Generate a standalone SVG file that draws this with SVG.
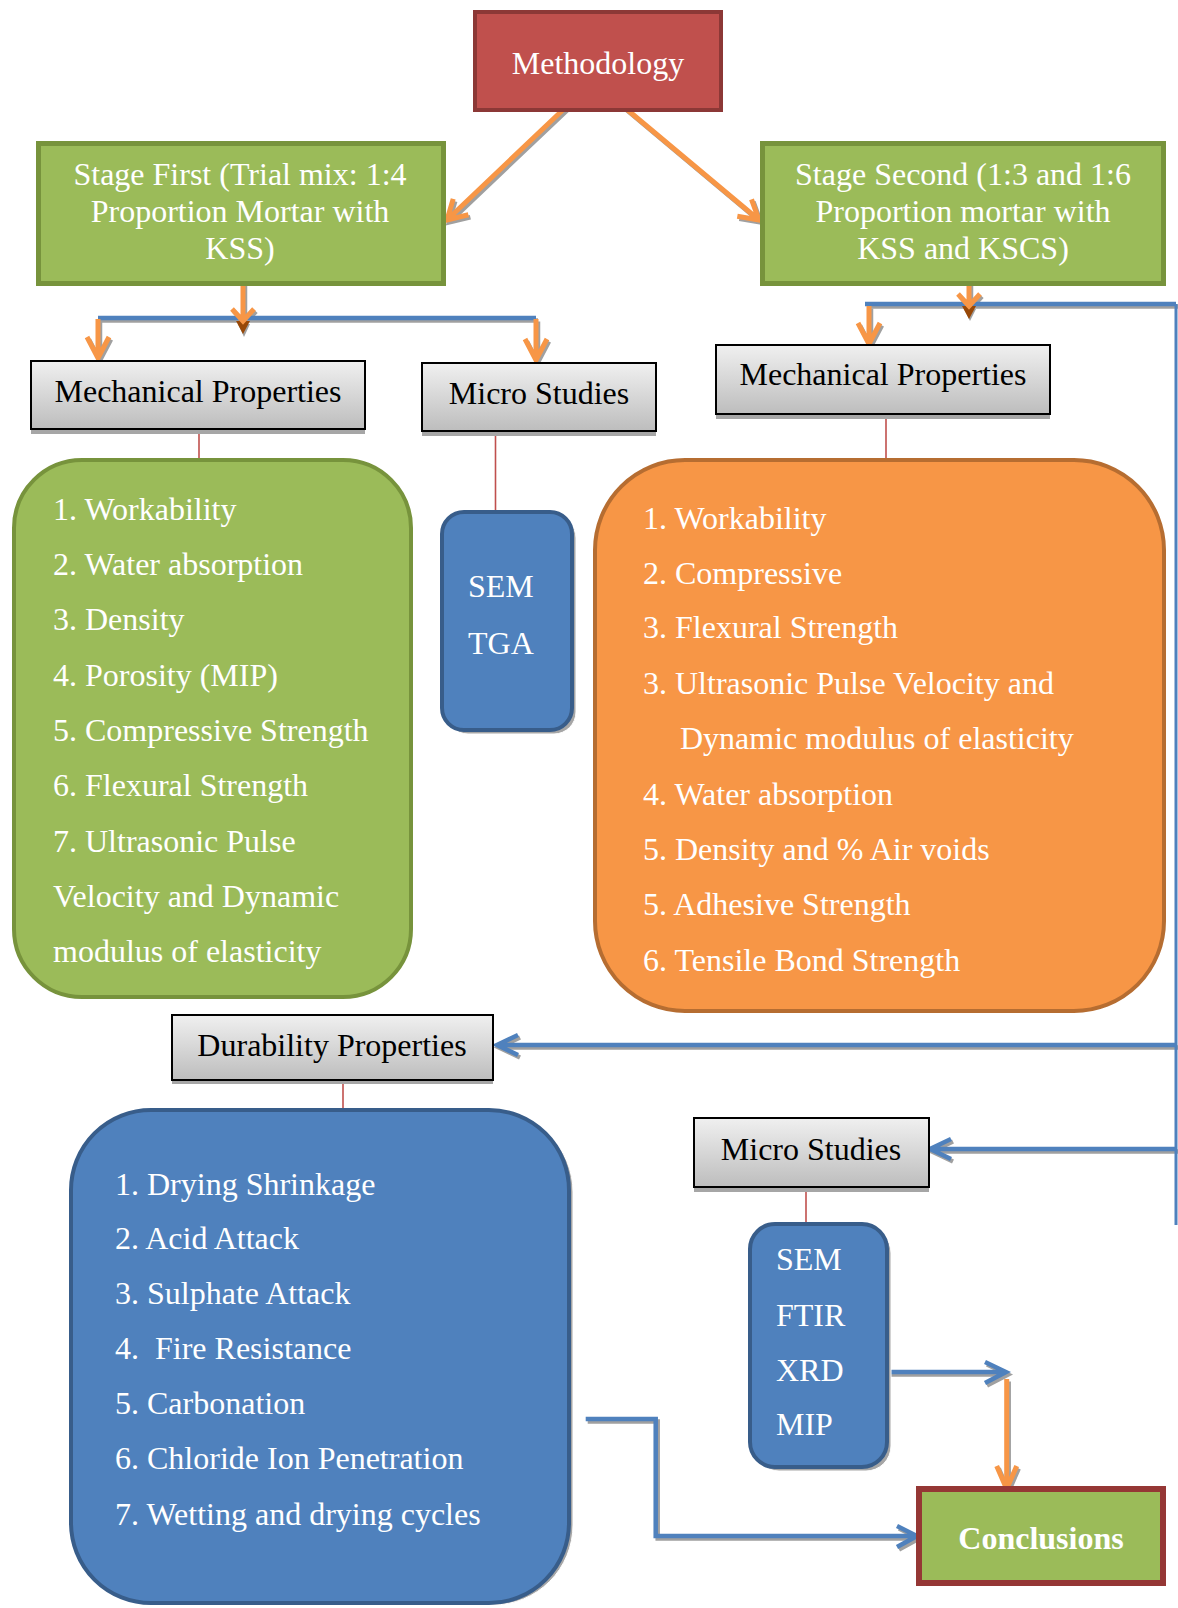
<svg xmlns="http://www.w3.org/2000/svg" width="1178" height="1608" viewBox="0 0 1178 1608">
  <defs>
    <linearGradient id="grayGrad" x1="0" y1="0" x2="0" y2="1">
      <stop offset="0" stop-color="#F0F0F0"/>
      <stop offset="1" stop-color="#BDBDBD"/>
    </linearGradient>
    <style>
      text { font-family: "Liberation Serif", "Times New Roman", serif; font-size: 32px; }
      .wt { fill: #FFFFFF; }
      .bk { fill: #000000; }
      .mid { text-anchor: middle; }
      .pre { white-space: pre; }
      .graybox { fill: url(#grayGrad); stroke: #000000; stroke-width: 2; }
      .grayshadow { fill: #A6A6A6; }
      .rshadow { fill: #A6A6A6; stroke: #FFFFFF; stroke-width: 1; }
      .redline { stroke: #C0504D; stroke-width: 1.6; fill: none; }
      .orange { stroke: #F79646; stroke-width: 5; fill: none; stroke-linecap: butt; stroke-linejoin: miter; }
      .blue { stroke: #4F81BD; stroke-width: 4.5; fill: none; stroke-linejoin: miter; }
      .shadowline { stroke: #A0A0A0; stroke-width: 4.5; fill: none; stroke-linejoin: miter; }
    </style>
  </defs>

  <!-- Connectors -->
  <g id="connectors">
    <g transform="translate(2,2.5)">
      <path class="shadowline" d="M567,106 L447,220 M468.4,214.8 L447,220 L453.2,198.9"/>
      <path class="shadowline" d="M624,107 L759,220 M751.5,199.3 L759,220 L737.3,216.2"/>
      <path class="shadowline" d="M243,272 V320 M232,309 L243,321 L254,309"/>
      <path class="shadowline" d="M98,319 V357 M87,337 L98,358 L109,337"/>
      <path class="shadowline" d="M536,319 V359 M525,339 L536,360 L547,339"/>
      <path class="shadowline" d="M969,272 V305 M958,294 L969,306 L980,294"/>
      <path class="shadowline" d="M869,306 V343 M858,323 L869,344 L880,323"/>
      <path class="shadowline" d="M1006.7,1379 V1488 M996.7,1466 L1006.7,1489 L1016.7,1466"/>
      <path class="shadowline" d="M98,318 H536"/>
      <path class="shadowline" d="M865,304 H1176"/>
      <path class="shadowline" d="M1176,1045 H498 M518,1035 L497,1045 L518,1055"/>
      <path class="shadowline" d="M1176,1149 H931 M951,1139 L930,1149 L951,1159"/>
      <path class="shadowline" d="M887,1372 H1005 M985,1362 L1006,1372 L985,1383"/>
      <path class="shadowline" d="M585.7,1419 H655.7 V1536 H916 M897,1526 L917,1536 L897,1547"/>
    </g>
    <path class="blue" d="M98,318 H536"/>
    <path class="blue" d="M865,304 H1176"/>
    <path d="M1176,304 V1225" stroke="#4F81BD" stroke-width="3" fill="none"/>
    <path class="blue" d="M1176,1045 H498 M518,1035 L497,1045 L518,1055"/>
    <path class="blue" d="M1176,1149 H931 M951,1139 L930,1149 L951,1159"/>
    <path class="blue" d="M887,1372 H1005 M985,1362 L1006,1372 L985,1383"/>
    <path class="blue" d="M585.7,1419 H655.7 V1536 H916 M897,1526 L917,1536 L897,1547"/>
    <polygon points="238,324 250,324 244,337" fill="#A0A0A0"/>
    <polygon points="236,321 250,321 243,334" fill="#984807"/>
    <polygon points="964,309 976,309 970,321" fill="#A0A0A0"/>
    <polygon points="962,306 976,306 969,319" fill="#984807"/>
    <path class="orange" d="M567,106 L447,220 M468.4,214.8 L447,220 L453.2,198.9"/>
    <path class="orange" d="M624,107 L759,220 M751.5,199.3 L759,220 L737.3,216.2"/>
    <path class="orange" d="M243,272 V320 M232,309 L243,321 L254,309"/>
    <path class="orange" d="M98,319 V357 M87,337 L98,358 L109,337"/>
    <path class="orange" d="M536,319 V359 M525,339 L536,360 L547,339"/>
    <path class="orange" d="M969,272 V305 M958,294 L969,306 L980,294"/>
    <path class="orange" d="M869,306 V343 M858,323 L869,344 L880,323"/>
    <path class="orange" d="M1006.7,1379 V1488 M996.7,1466 L1006.7,1489 L1016.7,1466"/>
    <path class="redline" d="M199,433 V462"/>
    <path class="redline" d="M495.5,433 V510"/>
    <path class="redline" d="M886,417 V460"/>
    <path class="redline" d="M343,1082 V1108"/>
    <path class="redline" d="M806,1190 V1222"/>
  </g>

  <g id="methodology">
    <rect x="475" y="12" width="246" height="98" fill="#C0504D" stroke="#8C3836" stroke-width="4"/>
    <text class="wt mid" x="598" y="73.5">Methodology</text>
  </g>

  <g id="stage-first">
    <rect x="38.5" y="143.5" width="405" height="140" fill="#9BBB59" stroke="#77933C" stroke-width="5"/>
    <text class="wt mid" x="240" y="184.5">Stage First (Trial mix: 1:4</text>
    <text class="wt mid" x="240" y="221.5">Proportion Mortar with</text>
    <text class="wt mid" x="240" y="258.5">KSS)</text>
  </g>

  <g id="stage-second">
    <rect x="762.5" y="143.5" width="401" height="140" fill="#9BBB59" stroke="#77933C" stroke-width="5"/>
    <text class="wt mid" x="963" y="184.5">Stage Second (1:3 and 1:6</text>
    <text class="wt mid" x="963" y="221.5">Proportion mortar with</text>
    <text class="wt mid" x="963" y="258.5">KSS and KSCS)</text>
  </g>

  <g id="mech-left">
    <rect class="grayshadow" x="31" y="430" width="334" height="4"/>
    <rect class="graybox" x="31" y="361" width="334" height="68"/>
    <text class="bk mid" x="198" y="401.5">Mechanical Properties</text>
  </g>

  <g id="micro-top">
    <rect class="grayshadow" x="422" y="432" width="234" height="4"/>
    <rect class="graybox" x="422" y="363" width="234" height="68"/>
    <text class="bk mid" x="539" y="403.5">Micro Studies</text>
  </g>

  <g id="mech-right">
    <rect class="grayshadow" x="716" y="415" width="334" height="4"/>
    <rect class="graybox" x="716" y="345" width="334" height="69"/>
    <text class="bk mid" x="883" y="384.5">Mechanical Properties</text>
  </g>

  <g id="list-stage-first">
    <rect x="14" y="460" width="397" height="537" rx="68" ry="68" fill="#9BBB59" stroke="#77933C" stroke-width="4"/>
    <text class="wt" x="53" y="519.5">1. Workability</text>
    <text class="wt" x="53" y="574.5">2. Water absorption</text>
    <text class="wt" x="53" y="629.5">3. Density</text>
    <text class="wt" x="53" y="685.5">4. Porosity (MIP)</text>
    <text class="wt" x="53" y="740.5">5. Compressive Strength</text>
    <text class="wt" x="53" y="795.5">6. Flexural Strength</text>
    <text class="wt" x="53" y="851.5">7. Ultrasonic Pulse</text>
    <text class="wt" x="53" y="906.5">Velocity and Dynamic</text>
    <text class="wt" x="53" y="961.5">modulus of elasticity</text>
  </g>

  <g id="micro-top-list">
    <rect class="rshadow" x="446" y="516" width="130" height="218" rx="22" ry="22"/>
    <rect x="442" y="512" width="130" height="218" rx="22" ry="22" fill="#4F81BD" stroke="#385D8A" stroke-width="4"/>
    <text class="wt" x="468" y="596.5">SEM</text>
    <text class="wt" x="468" y="653.5">TGA</text>
  </g>

  <g id="list-stage-second">
    <rect x="595" y="460" width="569" height="551" rx="90" ry="90" fill="#F79646" stroke="#B66D31" stroke-width="4"/>
    <text class="wt" x="643" y="528.5">1. Workability</text>
    <text class="wt" x="643" y="583.5">2. Compressive</text>
    <text class="wt" x="643" y="637.5">3. Flexural Strength</text>
    <text class="wt" x="643" y="693.5">3. Ultrasonic Pulse Velocity and</text>
    <text class="wt" x="680" y="748.5">Dynamic modulus of elasticity</text>
    <text class="wt" x="643" y="804.5">4. Water absorption</text>
    <text class="wt" x="643" y="859.5">5. Density and % Air voids</text>
    <text class="wt" x="643" y="914.5">5. Adhesive Strength</text>
    <text class="wt" x="643" y="970.5">6. Tensile Bond Strength</text>
  </g>

  <g id="durability">
    <rect class="grayshadow" x="172" y="1080" width="321" height="4"/>
    <rect class="graybox" x="172" y="1015" width="321" height="65"/>
    <text class="bk mid" x="332" y="1055.5">Durability Properties</text>
  </g>

  <g id="list-durability">
    <rect class="rshadow" x="75" y="1112" width="498" height="493" rx="80" ry="80"/>
    <rect x="71" y="1110" width="498" height="493" rx="80" ry="80" fill="#4F81BD" stroke="#385D8A" stroke-width="4"/>
    <text class="wt" x="115" y="1194.5">1. Drying Shrinkage</text>
    <text class="wt" x="115" y="1249">2. Acid Attack</text>
    <text class="wt" x="115" y="1304">3. Sulphate Attack</text>
    <text class="wt pre" x="115" y="1359">4.  Fire Resistance</text>
    <text class="wt" x="115" y="1414">5. Carbonation</text>
    <text class="wt" x="115" y="1469">6. Chloride Ion Penetration</text>
    <text class="wt" x="115" y="1525">7. Wetting and drying cycles</text>
  </g>

  <g id="micro-bottom">
    <rect class="grayshadow" x="694" y="1188" width="235" height="4"/>
    <rect class="graybox" x="694" y="1118" width="235" height="69"/>
    <text class="bk mid" x="811" y="1160">Micro Studies</text>
  </g>

  <g id="micro-bottom-list">
    <rect class="rshadow" x="754" y="1228" width="137" height="243" rx="25" ry="25"/>
    <rect x="750" y="1224" width="137" height="243" rx="25" ry="25" fill="#4F81BD" stroke="#385D8A" stroke-width="4"/>
    <text class="wt" x="776" y="1269.5">SEM</text>
    <text class="wt" x="776" y="1325.5">FTIR</text>
    <text class="wt" x="776" y="1380.5">XRD</text>
    <text class="wt" x="776" y="1434.5">MIP</text>
  </g>

  <g id="conclusions">
    <rect x="919" y="1489" width="244" height="94" fill="#9BBB59" stroke="#953735" stroke-width="6"/>
    <text class="wt mid" x="1041" y="1548.5" font-weight="bold">Conclusions</text>
  </g>
</svg>
